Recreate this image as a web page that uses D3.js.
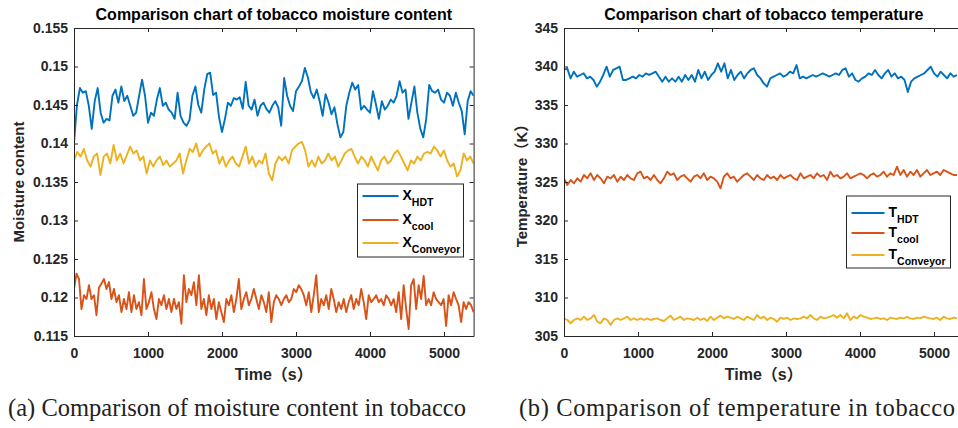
<!DOCTYPE html>
<html>
<head>
<meta charset="utf-8">
<script src="https://cdn.jsdelivr.net/npm/d3@7"></script>
<style>
body { margin: 0; background: #fff; }
svg { display: block; font-family: "Liberation Sans", Arial, "Noto Sans CJK SC", sans-serif; }
.tick text { font-weight: bold; font-size: 14px; fill: #262626; }
.tick line, .domain { stroke: #262626; }
</style>
</head>
<body>
<svg id="chart" width="958" height="428"></svg>
<script>
var width = 958,
    height = 428;

// shared time axis (s)
var timeTicks = [0, 1000, 2000, 3000, 4000, 5000];
var timeMax = 5400;

// (a) moisture content, samples evenly spread over 0..5400 s
var moistTicks = [0.115, 0.12, 0.125, 0.13, 0.135, 0.14, 0.145, 0.15, 0.155];
var moistTickLabels = ["0.115", "0.12", "0.125", "0.13", "0.135", "0.14", "0.145", "0.15", "0.155"];

var xHDT = [0.1400,0.1450,0.1472,0.1466,0.1468,0.1449,0.1419,0.1455,0.1472,0.1440,0.1427,0.1432,0.1430,0.1462,0.1470,0.1453,
  0.1474,0.1455,0.1462,0.1449,0.1436,0.1440,0.1462,0.1483,0.1462,0.1427,0.1440,0.1436,0.1457,0.1472,0.1449,0.1453,0.1444,
  0.1440,0.1432,0.1466,0.1436,0.1427,0.1423,0.1430,0.1462,0.1474,0.1450,0.1440,0.1470,0.1490,0.1492,0.1463,0.1466,0.1434,
  0.1415,0.1432,0.1453,0.1449,0.1459,0.1457,0.1460,0.1445,0.1480,0.1449,0.1444,0.1457,0.1436,0.1449,0.1453,0.1445,0.1440,
  0.1449,0.1455,0.1447,0.1423,0.1485,0.1462,0.1449,0.1442,0.1468,0.1474,0.1481,0.1498,0.1486,0.1467,0.1459,0.1470,0.1455,
  0.1436,0.1464,0.1453,0.1438,0.1447,0.1425,0.1408,0.1415,0.1449,0.1466,0.1479,0.1470,0.1476,0.1444,0.1449,0.1444,0.1440,
  0.1468,0.1451,0.1432,0.1455,0.1444,0.1449,0.1457,0.1453,0.1462,0.1481,0.1466,0.1470,0.1432,0.1453,0.1474,0.1440,0.1419,
  0.1408,0.1432,0.1476,0.1468,0.1466,0.1470,0.1457,0.1453,0.1466,0.1462,0.1449,0.1466,0.1453,0.1442,0.1412,0.1455,0.1468,0.1462];

var xCool = [0.1211,0.1231,0.1224,0.1185,0.1203,0.1198,0.1216,0.1198,0.1203,0.1177,0.1213,0.1218,0.1224,0.1211,0.1220,0.1198,
  0.1211,0.1194,0.1203,0.1181,0.1198,0.1185,0.1207,0.1181,0.1203,0.1185,0.1194,0.1177,0.1224,0.1185,0.1194,0.1207,0.1185,
  0.1172,0.1198,0.1190,0.1203,0.1185,0.1198,0.1181,0.1198,0.1185,0.1194,0.1166,0.1229,0.1194,0.1211,0.1203,0.1220,0.1190,
  0.1229,0.1185,0.1198,0.1177,0.1203,0.1185,0.1198,0.1172,0.1194,0.1181,0.1168,0.1198,0.1190,0.1203,0.1181,0.1198,0.1224,
  0.1185,0.1198,0.1207,0.1190,0.1198,0.1211,0.1198,0.1185,0.1203,0.1194,0.1181,0.1207,0.1168,0.1194,0.1203,0.1198,0.1190,
  0.1198,0.1203,0.1194,0.1198,0.1211,0.1207,0.1216,0.1211,0.1203,0.1190,0.1207,0.1181,0.1203,0.1229,0.1181,0.1198,0.1190,
  0.1203,0.1185,0.1211,0.1198,0.1181,0.1194,0.1185,0.1198,0.1181,0.1194,0.1203,0.1185,0.1198,0.1190,0.1211,0.1194,0.1172,
  0.1203,0.1194,0.1198,0.1203,0.1194,0.1198,0.1190,0.1203,0.1198,0.1190,0.1198,0.1181,0.1207,0.1172,0.1216,0.1185,0.1159,
  0.1216,0.1224,0.1185,0.1216,0.1198,0.1228,0.1190,0.1198,0.1190,0.1207,0.1198,0.1194,0.1190,0.1198,0.1163,0.1203,0.1190,
  0.1207,0.1198,0.1190,0.1168,0.1194,0.1185,0.1194,0.1190,0.1181];

var xConveyor = [0.1378,0.1389,0.1383,0.1393,0.1378,0.1370,0.1383,0.1387,0.1359,0.1383,0.1387,0.1374,0.1398,0.1378,0.1387,
  0.1374,0.1385,0.1396,0.1387,0.1391,0.1378,0.1383,0.1361,0.1378,0.1370,0.1378,0.1383,0.1372,0.1378,0.1370,0.1374,0.1378,
  0.1387,0.1361,0.1378,0.1393,0.1389,0.1400,0.1383,0.1391,0.1396,0.1400,0.1387,0.1391,0.1374,0.1383,0.1370,0.1378,0.1383,
  0.1374,0.1370,0.1383,0.1396,0.1374,0.1383,0.1370,0.1378,0.1374,0.1387,0.1361,0.1352,0.1374,0.1383,0.1378,0.1383,0.1374,
  0.1391,0.1396,0.1400,0.1402,0.1391,0.1370,0.1378,0.1370,0.1383,0.1374,0.1378,0.1387,0.1378,0.1383,0.1370,0.1378,0.1387,
  0.1391,0.1393,0.1383,0.1374,0.1383,0.1378,0.1370,0.1383,0.1374,0.1365,0.1378,0.1383,0.1374,0.1378,0.1387,0.1391,0.1383,
  0.1374,0.1365,0.1378,0.1374,0.1383,0.1378,0.1387,0.1389,0.1387,0.1396,0.1391,0.1383,0.1391,0.1378,0.1370,0.1374,0.1357,
  0.1365,0.1387,0.1378,0.1383,0.1374];

// (b) temperature (K); the figure edge cuts panel b at about 5310 s
var tempTicks = [305, 310, 315, 320, 325, 330, 335, 340, 345];
var tempTickLabels = ["305", "310", "315", "320", "325", "330", "335", "340", "345"];
var tempEnd = 5310;

var tHDT = [339.55,339.76,338.46,339.33,338.68,338.90,339.11,338.46,338.68,338.25,337.38,338.03,338.90,339.98,338.68,339.55,
  339.76,339.98,338.25,338.25,338.46,338.68,338.46,338.90,338.68,339.11,338.90,339.11,339.33,338.68,338.03,338.68,338.03,
  338.46,338.03,338.68,338.03,338.90,338.25,338.90,338.03,339.55,338.46,339.33,338.25,338.90,339.33,340.41,339.33,340.41,
  338.46,339.55,338.25,338.90,339.33,338.46,339.11,339.55,339.76,338.90,338.46,337.81,337.38,338.46,338.68,338.90,339.11,
  338.68,338.90,339.33,339.11,340.19,338.46,338.68,338.46,338.68,338.90,338.68,338.90,339.11,338.90,338.68,338.90,339.11,
  338.90,339.55,339.76,338.68,339.11,338.25,338.03,338.46,338.68,339.11,338.90,339.55,338.90,338.46,339.11,339.55,338.68,
  339.11,338.46,338.68,338.25,336.70,338.03,338.46,338.68,338.90,339.11,339.55,339.98,339.11,338.68,339.33,338.90,338.46,
  339.11,338.68,338.90];

var tCool = [325.48,324.61,325.26,324.83,325.48,325.04,325.91,325.48,326.13,325.26,325.91,325.48,324.83,325.69,325.48,325.91,
  325.04,325.69,325.26,325.91,325.48,325.26,326.13,326.34,325.48,325.69,325.26,325.91,325.26,324.83,325.48,326.34,325.91,
  326.13,325.26,325.69,325.91,325.48,325.04,325.69,325.91,325.48,326.13,325.26,325.69,325.48,325.04,324.18,325.69,326.13,
  325.48,325.69,325.04,325.48,325.91,326.13,325.69,325.26,325.91,325.48,325.26,325.91,325.48,325.69,325.26,325.91,325.48,
  325.69,325.91,325.48,325.26,326.13,325.48,325.69,325.91,325.48,326.13,325.69,325.91,325.26,326.34,325.69,325.91,325.48,
  325.69,326.13,325.48,325.69,325.91,326.13,325.91,325.48,325.91,326.13,325.69,325.91,326.34,325.69,326.13,325.91,326.99,
  325.91,326.56,325.69,326.34,325.91,326.56,325.69,326.13,326.56,325.91,326.13,326.34,325.91,326.56,326.34,326.13,325.91,325.91];

var tConveyor = [307.29,307.08,306.65,307.08,307.29,307.08,307.51,307.08,307.29,307.73,306.86,306.65,307.29,307.08,306.43,
  307.08,307.29,307.08,307.29,307.51,307.08,307.29,307.08,307.29,307.08,307.29,307.08,307.21,307.29,307.08,306.95,307.29,
  307.64,307.08,307.29,307.51,307.08,307.29,307.21,307.08,307.38,307.08,307.29,306.95,307.51,307.08,307.38,307.64,307.29,
  307.51,307.38,307.21,307.51,307.29,307.08,307.51,307.29,307.08,307.73,307.29,307.51,307.08,307.38,307.21,306.86,307.38,
  307.21,307.38,307.08,307.29,307.21,307.29,307.51,307.29,307.73,307.29,307.08,307.51,307.29,307.38,307.51,307.73,307.38,
  307.73,307.29,307.94,307.08,307.51,307.29,307.73,307.51,307.38,307.21,307.29,307.38,307.21,307.29,307.08,307.38,307.29,
  307.21,307.38,307.29,307.47,307.29,307.21,307.38,307.29,307.51,307.38,307.29,307.21,307.38,307.08,307.51,307.29,307.21,
  307.38,307.29];

var seriesColors = ["#0072BD", "#D95319", "#EDB120"];
var legendSubs = ["HDT", "cool", "Conveyor"];

var svg = d3.select("#chart");

function drawPanel(o) {
  var x = d3.scaleLinear().domain([0, timeMax]).range([o.left, o.left + 399.6]);
  var y = d3.scaleLinear().domain([o.ticks[0], o.ticks[o.ticks.length - 1]]).range([336, 28]);
  var g = svg.append("g");

  g.append("clipPath").attr("id", "clip" + o.id)
    .append("rect")
    .attr("x", x.range()[0]).attr("y", 28)
    .attr("width", x.range()[1] - x.range()[0]).attr("height", 308);

  var lines = g.append("g").attr("clip-path", "url(#clip" + o.id + ")");
  o.series.forEach(function(s, k) {
    var step = s.end / (s.values.length - 1);
    var line = d3.line()
      .x(function(d, i) { return x(i * step); })
      .y(function(d) { return y(d); });
    lines.append("path")
      .datum(s.values)
      .attr("d", line)
      .attr("fill", "none")
      .attr("stroke", seriesColors[k])
      .attr("stroke-width", 1.9)
      .attr("stroke-linejoin", "round");
  });

  // box axes, matlab style: ticks point inward
  g.append("g").attr("transform", "translate(0,336)")
    .call(d3.axisBottom(x).tickValues(timeTicks).tickSize(-4).tickSizeOuter(0).tickPadding(12)
      .tickFormat(d3.format("d")));
  g.append("g").attr("transform", "translate(0,28)")
    .call(d3.axisTop(x).tickValues(timeTicks).tickSize(-4).tickSizeOuter(0).tickFormat(""));
  g.append("g").attr("transform", "translate(" + x.range()[0] + ",0)")
    .call(d3.axisLeft(y).tickValues(o.ticks).tickSize(-4).tickSizeOuter(0).tickPadding(6)
      .tickFormat(function(d, i) { return o.tickLabels[i]; }));
  g.append("g").attr("transform", "translate(" + x.range()[1] + ",0)")
    .call(d3.axisRight(y).tickValues(o.ticks).tickSize(-4).tickSizeOuter(0).tickFormat(""));
  g.selectAll(".tick text").attr("font-family", null);
  g.selectAll(".domain").attr("stroke-width", 1);

  g.append("text")
    .attr("x", (x.range()[0] + x.range()[1]) / 2).attr("y", 20)
    .attr("text-anchor", "middle")
    .style("font-weight", "bold").style("font-size", "16px").attr("fill", "#000")
    .text(o.title);

  g.append("text")
    .attr("x", (x.range()[0] + x.range()[1]) / 2).attr("y", 380)
    .attr("text-anchor", "middle")
    .style("font-weight", "bold").style("font-size", "16px").attr("fill", "#262626")
    .text("Time（s）");

  g.append("text")
    .attr("transform", "translate(" + o.yLabelX + ",182) rotate(-90)")
    .attr("text-anchor", "middle")
    .style("font-weight", "bold").style("font-size", "15px").attr("fill", "#262626")
    .text(o.yLabel);

  g.append("text")
    .attr("x", o.captionX).attr("y", 416)
    .attr("textLength", o.captionW)
    .style("font-family", "'Liberation Serif', 'Times New Roman', serif")
    .style("font-size", "24.5px").attr("fill", "#222")
    .text(o.caption);

  // legend
  var lg = g.append("g").attr("transform", "translate(" + o.legend.x + "," + o.legend.y + ")");
  lg.append("rect")
    .attr("width", o.legend.w).attr("height", o.legend.h)
    .attr("fill", "#fff").attr("stroke", "#262626").attr("stroke-width", 1);
  o.legend.rows.forEach(function(ry, k) {
    lg.append("line")
      .attr("x1", 5).attr("x2", 5 + o.legend.lineLen)
      .attr("y1", ry).attr("y2", ry)
      .attr("stroke", seriesColors[k]).attr("stroke-width", 1.9);
    var t = lg.append("text")
      .attr("x", o.legend.lineLen + 9).attr("y", ry + 4)
      .style("font-weight", "bold").style("font-size", "14px").attr("fill", "#000");
    t.append("tspan").text(o.symbol);
    t.append("tspan").attr("dy", 6).style("font-size", "10.5px").text(legendSubs[k]);
  });
}

drawPanel({
  id: "a", left: 74, ticks: moistTicks, tickLabels: moistTickLabels,
  title: "Comparison chart of tobacco moisture content",
  yLabel: "Moisture content", yLabelX: 24,
  caption: "(a) Comparison of moisture content in tobacco", captionX: 8, captionW: 458,
  symbol: "X",
  series: [
    { values: xHDT, end: timeMax },
    { values: xCool, end: timeMax },
    { values: xConveyor, end: timeMax }
  ],
  legend: { x: 357.5, y: 184, w: 106, h: 73, lineLen: 36, rows: [12, 36, 59] }
});

drawPanel({
  id: "b", left: 564, ticks: tempTicks, tickLabels: tempTickLabels,
  title: "Comparison chart of tobacco temperature",
  yLabel: "Temperature（K）", yLabelX: 527,
  caption: "(b) Comparison of temperature in tobacco", captionX: 519, captionW: 436,
  symbol: "T",
  series: [
    { values: tHDT, end: tempEnd },
    { values: tCool, end: tempEnd },
    { values: tConveyor, end: tempEnd }
  ],
  legend: { x: 846.5, y: 196, w: 104, h: 72, lineLen: 33, rows: [17, 37, 59] }
});
</script>
</body>
</html>
